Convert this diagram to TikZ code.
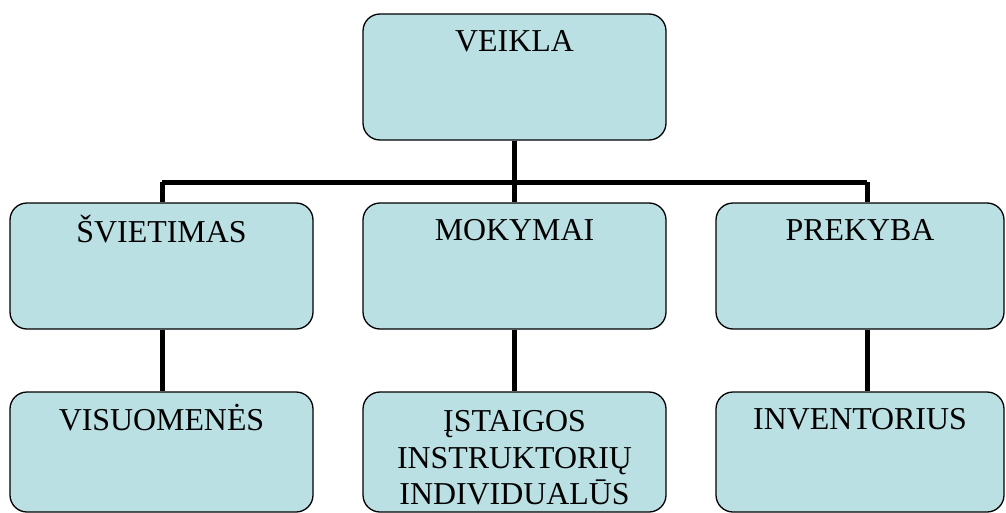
\documentclass[tikz,border=0pt]{standalone}
\usepackage{fontspec}
\setmainfont{Liberation Serif}
\usepackage{tikz}
\usetikzlibrary{arrows,shapes}
\definecolor{boxblue}{RGB}{187,224,227}

\begin{document}
\begin{tikzpicture}[
  box/.style={draw=black,line width=1.3bp,fill=boxblue,rounded corners=17bp,
    minimum width=303bp,minimum height=126bp,inner sep=0pt},
  lbl/.style={anchor=north,yshift=-13bp,inner sep=0pt,align=center,
    font=\fontsize{32}{36.5}\selectfont,
    execute at begin node={\rule{0pt}{25bp}}},
  link/.style={line width=5bp}]
\useasboundingbox (0bp,0bp) rectangle (1006bp,-513bp);
% top level
\node (VEIKLA) at (514.5bp,-77bp)[box,label={[lbl]north:VEIKLA}] {};
% second level
\node (SVIET) at (161.5bp,-266bp)[box,label={[lbl]north:ŠVIETIMAS}] {};
\node (MOKYM) at (514.5bp,-266bp)[box,label={[lbl]north:MOKYMAI}] {};
\node (PREKY) at (860bp,-266bp)[box,minimum width=288bp,label={[lbl]north:PREKYBA}] {};
% third level
\node (VISUO) at (161.5bp,-452bp)[box,minimum height=120bp,label={[lbl]north:VISUOMENĖS}] {};
\node (ISTAI) at (514.5bp,-452bp)[box,minimum height=120bp,label={[lbl,yshift=-6bp]north:ĮSTAIGOS\\INSTRUKTORIŲ\\INDIVIDUALŪS}] {};
\node (INVEN) at (860bp,-452bp)[box,minimum width=288bp,minimum height=120bp,label={[lbl]north:INVENTORIUS}] {};
% connectors
\coordinate (barL) at (162bp,-182bp);
\coordinate (barR) at (867bp,-182bp);
\draw [link] (barL) -- (barR);
\draw [link] (VEIKLA.south) -- (MOKYM.north);
\draw [link] (barL) -- (barL |- SVIET.north);
\draw [link] (barR) -- (barR |- PREKY.north);
\draw [link] (SVIET.south -| barL) -- (VISUO.north -| barL);
\draw [link] (MOKYM.south) -- (ISTAI.north);
\draw [link] (PREKY.south -| barR) -- (INVEN.north -| barR);
\end{tikzpicture}
\end{document}
